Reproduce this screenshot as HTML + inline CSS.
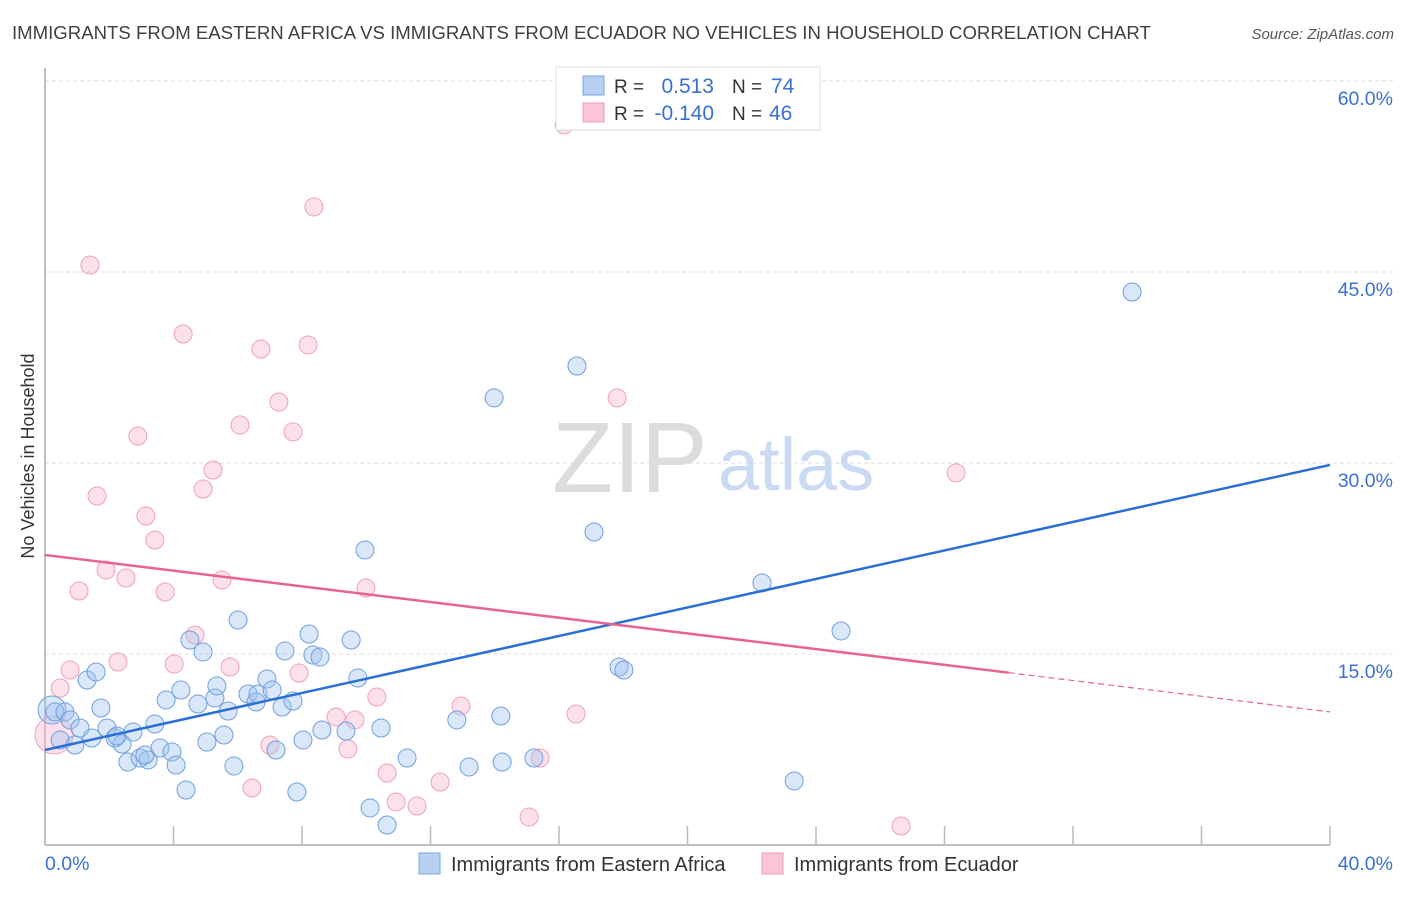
<!DOCTYPE html>
<html><head><meta charset="utf-8"><style>
body{margin:0;background:#fff;font-family:"Liberation Sans",sans-serif}
svg text{font-family:"Liberation Sans",sans-serif}
</style></head><body>
<svg id="chart" width="1406" height="892" viewBox="0 0 1406 892">
<text x="12" y="39" font-size="18.6" fill="#404040">IMMIGRANTS FROM EASTERN AFRICA VS IMMIGRANTS FROM ECUADOR NO VEHICLES IN HOUSEHOLD CORRELATION CHART</text>
<text x="1394" y="39" font-size="15" fill="#555" font-style="italic" text-anchor="end">Source: ZipAtlas.com</text>
<text transform="translate(34,456) rotate(-90)" font-size="18" fill="#333" text-anchor="middle">No Vehicles in Household</text>
<g>
<text x="552" y="492" font-size="100" font-family="Liberation Serif" fill="#dcdcdc">ZIP</text>
<text x="718" y="490" font-size="74" fill="#c9daf2">atlas</text>
</g>
<g id="grid"></g>
<g id="axes"></g>
<g id="pts"></g>
<g id="trend"></g>
<g>
<rect x="556" y="67" width="264" height="63" fill="#fff" stroke="#ddd"/>
<rect x="583" y="76" width="21" height="19" fill="#b7d0f4" stroke="#7aa6e6"/>
<rect x="583" y="103" width="21" height="19" fill="#fac6d6" stroke="#ef9ab4"/>
<text x="614" y="93" font-size="19" fill="#333">R =</text>
<text x="714" y="93" font-size="21" fill="#3a70d4" text-anchor="end">0.513</text>
<text x="732" y="93" font-size="19" fill="#333">N =</text>
<text x="771" y="93" font-size="21" fill="#3a70d4">74</text>
<text x="614" y="120" font-size="19" fill="#333">R =</text>
<text x="714" y="120" font-size="21" fill="#3a70d4" text-anchor="end">-0.140</text>
<text x="732" y="120" font-size="19" fill="#333">N =</text>
<text x="769" y="120" font-size="21" fill="#3a70d4">46</text>
</g>
<g>
<rect x="419" y="853" width="21" height="21" fill="#b7d0f4" stroke="#7aa6e6"/>
<text x="451" y="871" font-size="20" fill="#333">Immigrants from Eastern Africa</text>
<rect x="762" y="853" width="21" height="21" fill="#fac6d6" stroke="#ef9ab4"/>
<text x="794" y="871" font-size="20" fill="#333">Immigrants from Ecuador</text>
</g>
</svg>
<script>
const yTicks=[15,30,45,60];
const xTickVals=[0,4,8,12,16,20,24,28,32,36,40];
const xEndLabels=["0.0%","40.0%"];
const blueX=[0.22,0.31,0.62,0.78,0.47,0.93,1.09,1.31,1.59,1.46,1.74,1.93,2.18,2.40,2.24,2.74,2.58,2.96,3.21,3.11,3.42,3.58,3.95,4.08,3.77,4.23,4.39,4.51,4.76,4.92,5.04,5.29,5.35,5.57,5.70,5.88,6.01,6.32,6.57,6.63,6.91,7.07,7.19,7.38,7.47,7.72,7.84,8.03,8.22,8.34,8.56,8.62,9.37,9.53,9.74,9.96,10.12,10.46,10.65,11.27,12.82,13.20,13.98,14.19,14.23,15.22,16.56,17.09,17.87,18.02,22.32,23.32,24.78,33.84];
const blueY=[10.60,10.45,10.45,9.82,8.25,7.85,9.19,12.96,13.59,8.40,10.76,9.19,8.40,7.93,8.56,8.87,6.52,6.83,6.68,7.07,9.50,7.62,7.30,6.28,11.39,12.17,4.32,16.10,11.07,15.16,8.09,11.54,12.49,8.64,10.52,6.20,17.67,11.86,11.23,11.86,13.04,12.17,7.46,10.84,15.24,11.31,4.16,8.25,16.57,14.92,14.76,9.03,8.95,16.10,13.12,23.17,2.91,9.19,1.57,6.83,9.82,6.13,35.11,10.13,6.52,6.83,37.62,24.58,13.98,13.74,20.58,5.03,16.81,43.43];
const pinkX=[1.40,4.30,8.37,16.16,6.72,8.19,7.28,6.07,7.72,17.81,2.89,5.23,4.92,1.62,3.14,3.42,28.36,1.90,2.52,1.06,3.74,5.51,9.99,4.67,2.27,0.78,4.02,5.76,7.91,0.47,10.33,12.95,9.06,9.65,16.53,0.28,7.00,9.43,10.65,12.30,6.44,10.93,11.58,15.07,15.41,26.65];
const pinkY=[45.55,40.13,50.11,56.55,38.95,39.27,34.79,32.98,32.44,35.11,32.12,29.45,27.96,27.41,25.84,23.95,29.22,21.60,20.97,19.95,19.87,20.81,20.18,16.49,14.37,13.74,14.21,13.98,13.51,12.33,11.62,10.92,10.05,9.82,10.29,8.64,7.85,7.54,5.65,4.95,4.48,3.38,3.06,2.20,6.83,1.49];
const blueTrend=[7.46,29.85];
const pinkTrend=[22.78,10.45];
const pinkSolidEnd=30;

const X0=45,X1=1330,Y0=845,PX_PER_PCT_Y=191/15;
const sx=v=>X0+(X1-X0)*v/40;
const sy=v=>Y0-v*PX_PER_PCT_Y;
const NS="http://www.w3.org/2000/svg";
function mk(tag,attrs,parent){const e=document.createElementNS(NS,tag);for(const k in attrs)e.setAttribute(k,attrs[k]);document.getElementById(parent).appendChild(e);return e;}

yTicks.forEach(t=>{
 const l=mk('line',{x1:X0,x2:1393,y1:sy(t),y2:sy(t),stroke:'#ddd','stroke-dasharray':'4,3'},'grid');
 
 
 const tx=mk('text',{x:1393,y:sy(t)+24,'font-size':19.5,fill:'#3a70d4','text-anchor':'end'},'grid');
 tx.textContent=t.toFixed(1)+'%';
 
 
});
const ax=mk('line',{x1:X0,x2:X0,y1:68,y2:Y0,stroke:'#aaa','stroke-width':1.5},'axes');


const bx=mk('line',{x1:X0,x2:X1,y1:Y0,y2:Y0,stroke:'#aaa','stroke-width':1.5},'axes');


xTickVals.forEach(t=>{
 const l=mk('line',{x1:sx(t),x2:sx(t),y1:Y0-19,y2:Y0,stroke:'#bbb','stroke-width':1.5},'axes');
 
 
});
[[0,'start',45],[40,'end',1393]].forEach((d,i)=>{
 const tx=mk('text',{x:d[2],y:870,'font-size':19.5,fill:'#3a70d4','text-anchor':d[1]},'axes');
 tx.textContent=xEndLabels[i];
 
 
});
pinkX.forEach((x,i)=>{
 const c=mk('circle',{cx:sx(x),cy:sy(pinkY[i]),r:(i===35?19:9),fill:'rgba(248,180,202,0.4)',stroke:'#f0a0ba','stroke-width':1},'pts');
 
 
});
blueX.forEach((x,i)=>{
 const c=mk('circle',{cx:sx(x),cy:sy(blueY[i]),r:(i===0?14:9),fill:'rgba(160,196,240,0.4)',stroke:'#6f9fe0','stroke-width':1},'pts');
 
 
});
const bt=mk('line',{x1:sx(0),y1:sy(blueTrend[0]),x2:sx(40),y2:sy(blueTrend[1]),stroke:'#2a6fd6','stroke-width':2.5},'trend');


const pAt=x=>pinkTrend[0]+(pinkTrend[1]-pinkTrend[0])*x/40;
const pt=mk('line',{x1:sx(0),y1:sy(pAt(0)),x2:sx(pinkSolidEnd),y2:sy(pAt(pinkSolidEnd)),stroke:'#e8638f','stroke-width':2.5},'trend');


const pd=mk('line',{x1:sx(pinkSolidEnd),y1:sy(pAt(pinkSolidEnd)),x2:sx(40),y2:sy(pAt(40)),stroke:'#e8638f','stroke-width':1.2,'stroke-dasharray':'6,4'},'trend');


</script>
</body></html>
